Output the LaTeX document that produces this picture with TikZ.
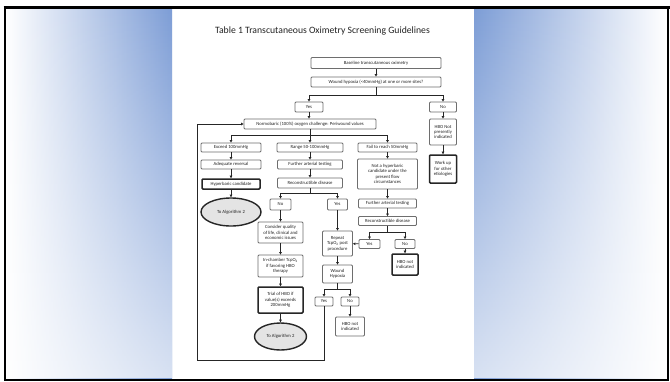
\documentclass[tikz,border=0pt]{standalone}
\usepackage{fontspec}
\setmainfont{Carlito}
\usetikzlibrary{shapes.geometric,arrows.meta,fadings}
\definecolor{pblue}{RGB}{125,157,214}
\definecolor{boxgray}{RGB}{110,110,110}
\definecolor{txt}{RGB}{35,35,35}
\definecolor{ellfill}{RGB}{228,228,228}
\tikzfading[name=fadedown, top color=transparent!100, bottom color=transparent!30]
\begin{document}
\begin{tikzpicture}[x=1pt,y=-1pt,
  box/.style={draw=boxgray, line width=0.75pt, rounded corners=1pt, fill=white, inner sep=0.5pt, align=center, text=txt, font=\fontsize{4.7}{5.4}\selectfont},
  tbox/.style={box, draw=black!85, line width=1.5pt},
  ell/.style={ellipse, draw=black!85, line width=1.4pt, fill=ellfill, inner sep=0pt, text=txt, font=\fontsize{4.7}{5.4}\selectfont},
  arr/.style={draw=black!85, line width=0.8pt, -{Triangle[length=2.6pt,width=2.6pt]}},
  ln/.style={draw=black!85, line width=0.8pt}]
\useasboundingbox (0,0) rectangle (670,381);
\fill[white] (0,0) rectangle (670,381);
% side panels
\shade[left color=white, right color=pblue] (5.5,9) rectangle (172,378);
\fill[white, path fading=fadedown] (5.5,9) rectangle (172,378);
\shade[left color=pblue, right color=white] (474,9) rectangle (667,378);
\fill[white, path fading=fadedown] (474,9) rectangle (667,378);
% frame
\draw[black, line width=2pt] (4.5,8) rectangle (668,379.5);
\draw[black, line width=3pt] (3.5,7.5) -- (670,7.5);
% title
\node[text=txt, font=\fontsize{9.7}{11}\selectfont] (title) at (322.5,31) {Table 1 Transcutaneous Oximetry Screening Guidelines};
% boxes
\node[box, minimum width=130pt, minimum height=11pt] (base) at (376,63) {Baseline transcutaneous oximetry};
\node[box, minimum width=130pt, minimum height=10pt] (hyp) at (376,82) {Wound hypoxia (<40mmHg) at one or more sites?};
\node[box, minimum width=28pt, minimum height=10pt] (yes1) at (309,107) {Yes};
\node[box, minimum width=27pt, minimum height=10pt] (no1) at (443,107) {No};
\node[box, minimum width=132pt, minimum height=10pt] (norm) at (310,124) {Normobaric (100\%) oxygen challenge: Periwound values};
\node[box, minimum width=27pt, minimum height=26pt] (hbonot) at (443,132) {HBO Not\\presently\\indicated};
\node[tbox, minimum width=27pt, minimum height=28pt] (workup) at (443,169) {Work up\\for other\\etiologies};
\node[box, minimum width=60pt, minimum height=9pt] (exceed) at (231,147.5) {Exceed 100mmHg};
\node[box, minimum width=66pt, minimum height=9pt] (range) at (310,147.5) {Range 50-100mmHg};
\node[box, minimum width=59pt, minimum height=9pt] (fail) at (387.5,147.5) {Fail to reach 50mmHg};
\node[box, minimum width=60pt, minimum height=9pt] (adeq) at (231,164.5) {Adequate reversal};
\node[tbox, minimum width=58pt, minimum height=10pt] (hypcand) at (231,184) {Hyperbaric candidate};
\node[ell, minimum width=60pt, minimum height=28pt] (alg1) at (231,212) {To Algorithm 2};
\node[box, minimum width=65pt, minimum height=9pt] (fat1) at (310,164.5) {Further arterial testing};
\node[box, minimum width=65pt, minimum height=10pt] (recon1) at (310,183) {Reconstructible disease};
\node[box, minimum width=21pt, minimum height=11pt] (no2) at (280.5,204.5) {No};
\node[box, minimum width=20pt, minimum height=11pt] (yes2) at (337.5,204.5) {Yes};
\node[box, minimum width=45pt, minimum height=21pt] (consider) at (280.5,232.5) {Consider quality\\of life, clinical and\\economic issues};
\node[box, minimum width=45pt, minimum height=22pt] (inchamber) at (280.5,266) {In-chamber TcpO\textsubscript{2}\\if favoring HBO\\therapy};
\node[tbox, minimum width=45pt, minimum height=26pt] (trial) at (280.5,300) {Trial of HBO if\\value(s) exceeds\\200mmHg};
\node[ell, minimum width=52pt, minimum height=27pt] (alg2) at (280.5,336.5) {To Algorithm 2};
\node[box, minimum width=30pt, minimum height=25pt] (repeat) at (337.5,243.5) {Repeat\\TcpO\textsubscript{2} post\\procedure};
\node[box, minimum width=30pt, minimum height=18pt] (woundh) at (337.5,274) {Wound\\Hypoxia};
\node[box, minimum width=18pt, minimum height=9pt] (yes3) at (324,301.5) {Yes};
\node[box, minimum width=18pt, minimum height=9pt] (no3) at (350,301.5) {No};
\node[box, minimum width=29pt, minimum height=19pt] (hbonot3) at (350,326.5) {HBO not\\indicated};
\node[box, minimum width=60pt, minimum height=30pt] (nothyp) at (387.5,174) {Not a hyperbaric\\candidate under the\\present flow\\circumstances};
\node[box, minimum width=58pt, minimum height=9pt] (fat2) at (387.5,203.5) {Further arterial testing};
\node[box, minimum width=58pt, minimum height=9pt] (recon2) at (387.5,221) {Reconstructible disease};
\node[box, minimum width=21pt, minimum height=9pt] (yes4) at (369.5,244) {Yes};
\node[box, minimum width=20pt, minimum height=9pt] (no4) at (405,244) {No};
\node[tbox, minimum width=26pt, minimum height=21pt] (hbonot4) at (405,264.5) {HBO not\\indicated};
% junctions
\coordinate (j1) at (376,95);
\coordinate (j2) at (310,135);
\coordinate (j3) at (310,193);
\coordinate (j4) at (337.5,289);
\coordinate (j5) at (387.5,232);
\coordinate (lb) at (197,360);
% connectors
\draw[arr] (base) -- (hyp);
\draw[ln] (hyp) -- (j1);
\draw[arr] (j1) -| (yes1);
\draw[arr] (j1) -| (no1);
\draw[arr] (yes1.south) -- (yes1.south |- norm.north);
\draw[arr] (no1) -- (hbonot);
\draw[arr] (hbonot) -- (workup);
\draw[ln] (norm) -- (j2);
\draw[arr] (j2) -| (exceed);
\draw[arr] (j2) -| (range);
\draw[arr] (j2) -| (fail);
\draw[arr] (exceed) -- (adeq);
\draw[arr] (adeq) -- (hypcand);
\draw[arr] (hypcand) -- (alg1);
\draw[arr] (range) -- (fat1);
\draw[arr] (fat1) -- (recon1);
\draw[ln] (recon1) -- (j3);
\draw[arr] (j3) -| (no2);
\draw[arr] (j3) -| (yes2);
\draw[arr] (no2) -- (consider);
\draw[arr] (consider) -- (inchamber);
\draw[arr] (inchamber) -- (trial);
\draw[arr] (trial) -- (alg2);
\draw[arr] (yes2) -- (repeat);
\draw[arr] (repeat) -- (woundh);
\draw[ln] (woundh) -- (j4);
\draw[arr] (j4) -| (yes3);
\draw[arr] (j4) -| (no3);
\draw[arr] (no3) -- (hbonot3);
\draw[arr] (yes3.south) |- (lb) |- (norm.west);
\draw[arr] (fail) -- (nothyp);
\draw[arr] (nothyp) -- (fat2);
\draw[arr] (fat2) -- (recon2);
\draw[ln] (recon2) -- (j5);
\draw[arr] (j5) -| (yes4);
\draw[arr] (j5) -| (no4);
\draw[arr] (yes4) -- (repeat);
\draw[arr] (no4) -- (hbonot4);
\end{tikzpicture}
\end{document}
